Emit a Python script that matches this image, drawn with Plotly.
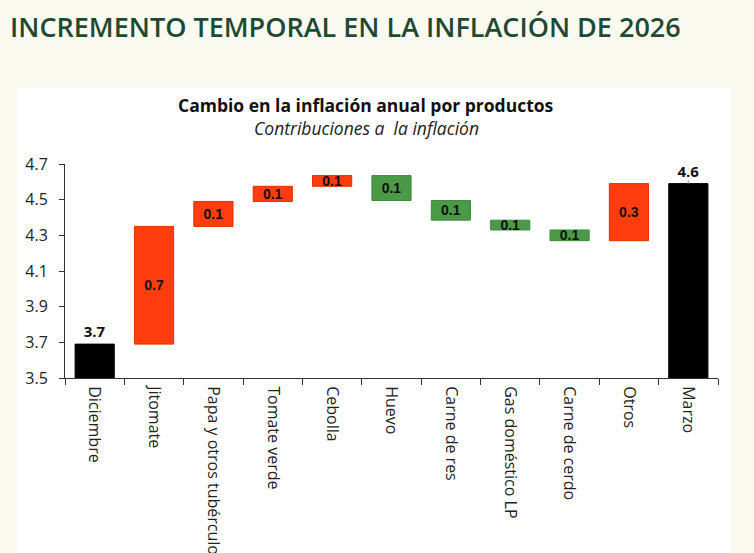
import plotly.graph_objects as go

categories = ["Diciembre", "Jitomate", "Papa y otros tubérculos", "Tomate verde", "Cebolla",
              "Huevo", "Carne de res", "Gas doméstico LP", "Carne de cerdo", "Otros", "Marzo"]
measures = ["absolute", "relative", "relative", "relative", "relative",
            "relative", "relative", "relative", "relative", "relative", "total"]
values = [3.69, 0.66, 0.14, 0.085, 0.06, -0.14, -0.11, -0.055, -0.06, 0.32, 0]
labels = ["3.7", "0.7", "0.1", "0.1", "0.1", "0.1", "0.1", "0.1", "0.1", "0.3", "4.6"]
label_pos = ["outside"] + ["inside"] * 9 + ["outside"]
yticks = [3.5, 3.7, 3.9, 4.1, 4.3, 4.5, 4.7]

W, H = 754, 553
ml, mr, mt, mb = 65, 36, 164, 175
pw, ph = W - ml - mr, H - mt - mb

def px(x):
    return (x - ml) / pw

def py(y):
    return (H - mb - y) / ph

total = sum(values[:-1])

fig = go.Figure(go.Waterfall(
    x=categories, y=values, measure=measures,
    text=labels, textposition=label_pos, textangle=0, constraintext="none",
    insidetextanchor="middle",
    textfont=dict(family="Open Sans", size=15, color="#111111", weight="bold"),
    insidetextfont=dict(family="Liberation Sans", size=14, color="#111111", weight="bold"),
    outsidetextfont=dict(family="Open Sans", size=15, color="#111111", weight="bold"),
    increasing=dict(marker=dict(color="#FF3D0F", line=dict(color="#E03000", width=1))),
    decreasing=dict(marker=dict(color="#4A9A48", line=dict(color="#3E8A3E", width=1))),
    totals=dict(marker=dict(color="#000000", line=dict(color="#000000", width=1))),
    connector=dict(visible=False),
    cliponaxis=False,
))

fig.update_layout(
    width=W, height=H,
    margin=dict(l=ml, r=mr, t=mt, b=mb),
    paper_bgcolor="#FBFAF1",
    plot_bgcolor="white",
    waterfallgap=0.34,
    showlegend=False,
    font=dict(family="Open Sans", color="#222222"),
    shapes=[
        dict(type="rect", xref="paper", yref="paper", layer="below",
             x0=px(17), x1=px(731), y0=py(H + 5), y1=py(88),
             fillcolor="white", line=dict(width=0)),
        dict(type="line", xref="x", yref="y", layer="above",
             x0=categories[-1], x1=categories[-1], y0=total, y1=total + 0.018,
             line=dict(color="#999999", width=1)),
    ],
    annotations=[
        dict(text="INCREMENTO TEMPORAL EN LA INFLACIÓN DE 2026", xref="paper", yref="paper",
             x=px(8), y=py(26), xanchor="left", yanchor="middle", showarrow=False,
             font=dict(family="Open Sans", size=27, color="#1F4A32", weight=600)),
        dict(text="<b>Cambio en la inflación anual por productos</b>", xref="paper", yref="paper",
             x=px(366), y=py(105), xanchor="center", yanchor="middle", showarrow=False,
             font=dict(family="Open Sans", size=17.5, color="#111111")),
        dict(text="<i>Contribuciones a  la inflación</i>", xref="paper", yref="paper",
             x=px(366), y=py(128), xanchor="center", yanchor="middle", showarrow=False,
             font=dict(family="Open Sans", size=17.5, color="#222222")),
    ],
)

fig.update_xaxes(
    type="category", tickangle=90, tickson="boundaries", ticks="outside", ticklen=6,
    tickcolor="#333333", showline=True, linecolor="#333333", linewidth=1,
    tickfont=dict(family="Open Sans", size=16, color="#222222"),
    automargin=False, showgrid=False, ticklabelstandoff=4,
)
fig.update_yaxes(
    range=[3.5, 4.7], tickvals=yticks, tickformat=".1f", ticks="outside", ticklen=5,
    tickcolor="#333333", showline=True, linecolor="#333333", linewidth=1,
    tickfont=dict(family="Open Sans", size=16, color="#222222"),
    showgrid=False, zeroline=False, automargin=False, ticklabelstandoff=8,
)

fig.write_html("out.html")
